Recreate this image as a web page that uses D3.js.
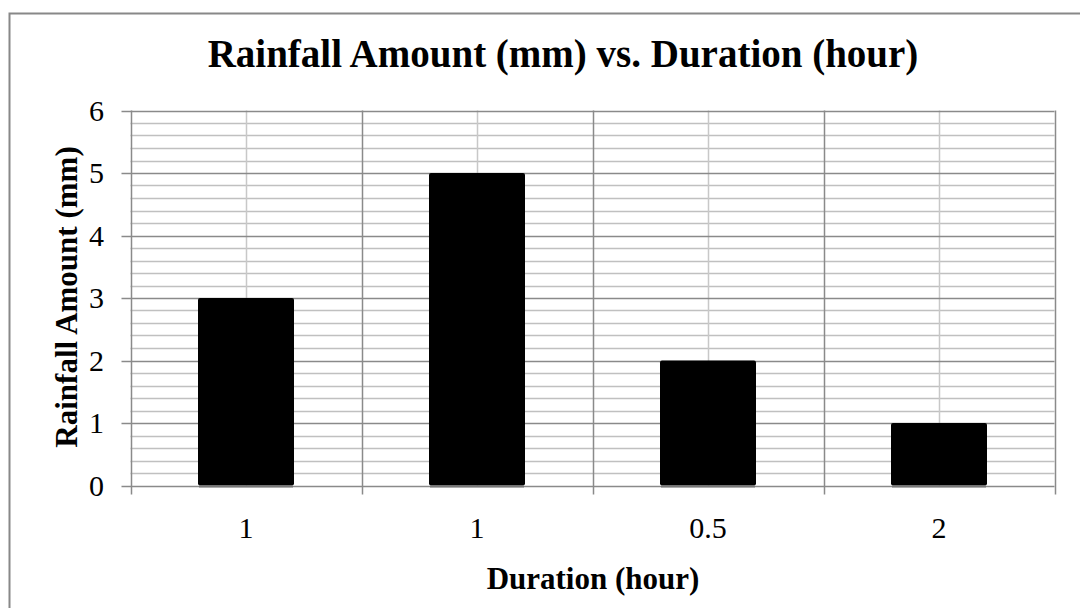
<!DOCTYPE html>
<html>
<head>
<meta charset="utf-8">
<script src="https://cdn.jsdelivr.net/npm/d3@7"></script>
<style>
  html, body { margin: 0; padding: 0; background: #fff; }
  svg { display: block; font-family: "Liberation Serif", "Times New Roman", serif; }
</style>
</head>
<body>
<div id="chart"></div>
<script>
// data
var categories = ['1', '1', '0.5', '2'];
var rainfall = [3, 5, 2, 1];
var yTicks = [0, 1, 2, 3, 4, 5, 6];

var W = 1080, H = 608;
var plot = { left: 130.5, right: 1054.5, top: 110.5, bottom: 485.5 };

var svg = d3.select('#chart').append('svg')
    .attr('width', W)
    .attr('height', H);

// chart frame (right/bottom edges run off the picture)
svg.append('rect')
    .attr('x', 9.5).attr('y', 13.5)
    .attr('width', 1100).attr('height', 700)
    .attr('fill', '#fff')
    .attr('stroke', '#888').attr('stroke-width', 2);

var idx = d3.range(categories.length);
var x = d3.scaleBand().domain(idx).range([plot.left, plot.right]).paddingInner(0).paddingOuter(0);
var y = d3.scaleLinear().domain([0, 6]).range([plot.bottom, plot.top]);

// minor horizontal gridlines every 0.2
var minor = d3.range(0, 6.001, 0.2).filter(function(v) { return Math.abs(v - Math.round(v)) > 1e-6; });
svg.append('g').selectAll('line').data(minor).enter().append('line')
    .attr('x1', plot.left).attr('x2', plot.right)
    .attr('y1', function(d) { return Math.round(y(d)) + 0.5; })
    .attr('y2', function(d) { return Math.round(y(d)) + 0.5; })
    .attr('stroke', '#c0c0c0').attr('stroke-width', 1.5);

// minor vertical gridlines at category centres
svg.append('g').selectAll('line').data(idx).enter().append('line')
    .attr('x1', function(i) { return Math.round(x(i) + x.bandwidth() / 2) + 0.5; })
    .attr('x2', function(i) { return Math.round(x(i) + x.bandwidth() / 2) + 0.5; })
    .attr('y1', plot.top).attr('y2', plot.bottom)
    .attr('stroke', '#c8c8c8').attr('stroke-width', 1.5);

// major horizontal gridlines
svg.append('g').selectAll('line').data(yTicks).enter().append('line')
    .attr('x1', plot.left - 9).attr('x2', plot.right)
    .attr('y1', function(d) { return Math.round(y(d)) + 0.5; })
    .attr('y2', function(d) { return Math.round(y(d)) + 0.5; })
    .attr('stroke', '#8a8a8a').attr('stroke-width', 1.5);

// major vertical gridlines at category boundaries (with ticks below axis)
var bounds = idx.map(function(i) { return x(i); }).concat([plot.right]);
svg.append('g').selectAll('line').data(bounds).enter().append('line')
    .attr('x1', function(d) { return Math.round(d) + 0.5; })
    .attr('x2', function(d) { return Math.round(d) + 0.5; })
    .attr('y1', plot.top).attr('y2', plot.bottom + 9)
    .attr('stroke', '#8a8a8a').attr('stroke-width', 1.5);

// bars
var barW = 96;
var bars = svg.append('g');
bars.selectAll('rect').data(idx).enter().append('rect')
    .attr('x', function(i) { return x(i) + (x.bandwidth() - barW) / 2; })
    .attr('y', function(i) { return y(rainfall[i]); })
    .attr('width', barW)
    .attr('height', function(i) { return y(0) - y(rainfall[i]); })
    .attr('rx', 2)
    .attr('fill', '#000');
bars.selectAll('line').data(idx).enter().append('line')
    .attr('x1', function(i) { return x(i) + (x.bandwidth() - barW) / 2 + 1; })
    .attr('x2', function(i) { return x(i) + (x.bandwidth() + barW) / 2 - 1; })
    .attr('y1', y(0) + 1).attr('y2', y(0) + 1)
    .attr('stroke', '#777').attr('stroke-width', 2);

// y tick labels
svg.append('g').selectAll('text').data(yTicks).enter().append('text')
    .attr('x', 104)
    .attr('y', function(d) { return y(d); })
    .attr('dy', '0.34em')
    .attr('text-anchor', 'end')
    .attr('font-size', 30)
    .text(function(d) { return d; });

// x tick labels
svg.append('g').selectAll('text').data(idx).enter().append('text')
    .attr('x', function(i) { return x(i) + x.bandwidth() / 2; })
    .attr('y', 538)
    .attr('text-anchor', 'middle')
    .attr('font-size', 30)
    .text(function(i) { return categories[i]; });

// titles
svg.append('text')
    .attr('x', 563).attr('y', 67)
    .attr('text-anchor', 'middle')
    .attr('font-size', 39).attr('font-weight', 'bold')
    .text('Rainfall Amount (mm) vs. Duration (hour)');

svg.append('text')
    .attr('x', 593).attr('y', 589)
    .attr('text-anchor', 'middle')
    .attr('font-size', 31).attr('font-weight', 'bold')
    .text('Duration (hour)');

svg.append('text')
    .attr('transform', 'translate(77,' + 297 + ') rotate(-90)')
    .attr('text-anchor', 'middle')
    .attr('font-size', 31).attr('font-weight', 'bold')
    .text('Rainfall Amount (mm)');
</script>
</body>
</html>
